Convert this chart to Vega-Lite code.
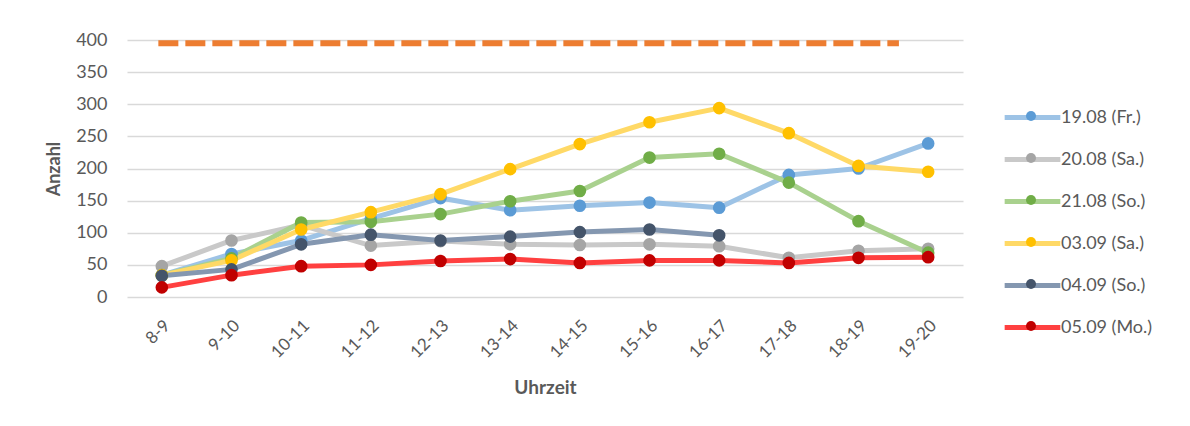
{
  "$schema": "https://vega.github.io/schema/vega-lite/v6.json",
  "width": 836,
  "height": 257,
  "autosize": "none",
  "padding": {"left": 127, "top": 40, "right": 227, "bottom": 129},
  "background": "white",
  "config": {
    "font": "Lato",
    "view": {"stroke": null},
    "axis": {"labelColor": "#595959", "titleColor": "#595959", "labelFont": "Lato", "titleFont": "Lato"},
    "legend": {"labelFont": "Lato"}
  },
  "resolve": {"legend": {"stroke": "independent", "fill": "independent"}},
  "datasets": {
    "serien": [
      {"zeit": "8-9", "serie": "19.08 (Fr.)", "wert": 34},
      {"zeit": "9-10", "serie": "19.08 (Fr.)", "wert": 67},
      {"zeit": "10-11", "serie": "19.08 (Fr.)", "wert": 88},
      {"zeit": "11-12", "serie": "19.08 (Fr.)", "wert": 122},
      {"zeit": "12-13", "serie": "19.08 (Fr.)", "wert": 154},
      {"zeit": "13-14", "serie": "19.08 (Fr.)", "wert": 135},
      {"zeit": "14-15", "serie": "19.08 (Fr.)", "wert": 142},
      {"zeit": "15-16", "serie": "19.08 (Fr.)", "wert": 147},
      {"zeit": "16-17", "serie": "19.08 (Fr.)", "wert": 139},
      {"zeit": "17-18", "serie": "19.08 (Fr.)", "wert": 190},
      {"zeit": "18-19", "serie": "19.08 (Fr.)", "wert": 200},
      {"zeit": "19-20", "serie": "19.08 (Fr.)", "wert": 239},
      {"zeit": "8-9", "serie": "20.08 (Sa.)", "wert": 48},
      {"zeit": "9-10", "serie": "20.08 (Sa.)", "wert": 88},
      {"zeit": "10-11", "serie": "20.08 (Sa.)", "wert": 112},
      {"zeit": "11-12", "serie": "20.08 (Sa.)", "wert": 80},
      {"zeit": "12-13", "serie": "20.08 (Sa.)", "wert": 87},
      {"zeit": "13-14", "serie": "20.08 (Sa.)", "wert": 82},
      {"zeit": "14-15", "serie": "20.08 (Sa.)", "wert": 81},
      {"zeit": "15-16", "serie": "20.08 (Sa.)", "wert": 82},
      {"zeit": "16-17", "serie": "20.08 (Sa.)", "wert": 79},
      {"zeit": "17-18", "serie": "20.08 (Sa.)", "wert": 61},
      {"zeit": "18-19", "serie": "20.08 (Sa.)", "wert": 72},
      {"zeit": "19-20", "serie": "20.08 (Sa.)", "wert": 75},
      {"zeit": "8-9", "serie": "21.08 (So.)", "wert": 34},
      {"zeit": "9-10", "serie": "21.08 (So.)", "wert": 60},
      {"zeit": "10-11", "serie": "21.08 (So.)", "wert": 116},
      {"zeit": "11-12", "serie": "21.08 (So.)", "wert": 117},
      {"zeit": "12-13", "serie": "21.08 (So.)", "wert": 129},
      {"zeit": "13-14", "serie": "21.08 (So.)", "wert": 149},
      {"zeit": "14-15", "serie": "21.08 (So.)", "wert": 165},
      {"zeit": "15-16", "serie": "21.08 (So.)", "wert": 217},
      {"zeit": "16-17", "serie": "21.08 (So.)", "wert": 223},
      {"zeit": "17-18", "serie": "21.08 (So.)", "wert": 178},
      {"zeit": "18-19", "serie": "21.08 (So.)", "wert": 118},
      {"zeit": "19-20", "serie": "21.08 (So.)", "wert": 69},
      {"zeit": "8-9", "serie": "03.09 (Sa.)", "wert": 34},
      {"zeit": "9-10", "serie": "03.09 (Sa.)", "wert": 57},
      {"zeit": "10-11", "serie": "03.09 (Sa.)", "wert": 105},
      {"zeit": "11-12", "serie": "03.09 (Sa.)", "wert": 132},
      {"zeit": "12-13", "serie": "03.09 (Sa.)", "wert": 160},
      {"zeit": "13-14", "serie": "03.09 (Sa.)", "wert": 199},
      {"zeit": "14-15", "serie": "03.09 (Sa.)", "wert": 238},
      {"zeit": "15-16", "serie": "03.09 (Sa.)", "wert": 272},
      {"zeit": "16-17", "serie": "03.09 (Sa.)", "wert": 294},
      {"zeit": "17-18", "serie": "03.09 (Sa.)", "wert": 255},
      {"zeit": "18-19", "serie": "03.09 (Sa.)", "wert": 204},
      {"zeit": "19-20", "serie": "03.09 (Sa.)", "wert": 195},
      {"zeit": "8-9", "serie": "04.09 (So.)", "wert": 33},
      {"zeit": "9-10", "serie": "04.09 (So.)", "wert": 43},
      {"zeit": "10-11", "serie": "04.09 (So.)", "wert": 82},
      {"zeit": "11-12", "serie": "04.09 (So.)", "wert": 97},
      {"zeit": "12-13", "serie": "04.09 (So.)", "wert": 88},
      {"zeit": "13-14", "serie": "04.09 (So.)", "wert": 94},
      {"zeit": "14-15", "serie": "04.09 (So.)", "wert": 101},
      {"zeit": "15-16", "serie": "04.09 (So.)", "wert": 105},
      {"zeit": "16-17", "serie": "04.09 (So.)", "wert": 96},
      {"zeit": "8-9", "serie": "05.09 (Mo.)", "wert": 15},
      {"zeit": "9-10", "serie": "05.09 (Mo.)", "wert": 34},
      {"zeit": "10-11", "serie": "05.09 (Mo.)", "wert": 48},
      {"zeit": "11-12", "serie": "05.09 (Mo.)", "wert": 50},
      {"zeit": "12-13", "serie": "05.09 (Mo.)", "wert": 56},
      {"zeit": "13-14", "serie": "05.09 (Mo.)", "wert": 59},
      {"zeit": "14-15", "serie": "05.09 (Mo.)", "wert": 53},
      {"zeit": "15-16", "serie": "05.09 (Mo.)", "wert": 57},
      {"zeit": "16-17", "serie": "05.09 (Mo.)", "wert": 57},
      {"zeit": "17-18", "serie": "05.09 (Mo.)", "wert": 53},
      {"zeit": "18-19", "serie": "05.09 (Mo.)", "wert": 61},
      {"zeit": "19-20", "serie": "05.09 (Mo.)", "wert": 62}
    ],
    "grenze": [
      {"von": "8-9", "bis": "19-20", "wert": 395}
    ]
  },
  "layer": [
    {
      "data": {"name": "grenze"},
      "mark": {"type": "rule", "color": "#ED7D31", "strokeWidth": 6, "strokeDash": [20, 7]},
      "encoding": {
        "x": {"field": "von", "type": "nominal", "bandPosition": 0.45},
        "x2": {"field": "bis", "bandPosition": 0.08},
        "y": {"field": "wert", "type": "quantitative"}
      }
    },
    {
      "data": {"name": "serien"},
      "mark": {"type": "line", "strokeWidth": 5, "strokeCap": "round", "strokeJoin": "round"},
      "encoding": {
        "x": {"field": "zeit", "type": "nominal", "bandPosition": 0.5},
        "y": {"field": "wert", "type": "quantitative"},
        "stroke": {
          "field": "serie", "type": "nominal",
          "scale": {
            "domain": ["19.08 (Fr.)", "20.08 (Sa.)", "21.08 (So.)", "03.09 (Sa.)", "04.09 (So.)", "05.09 (Mo.)"],
            "range": ["#9DC3E6", "#C9C9C9", "#A9D18E", "#FFD966", "#8497B0", "#FF4040"]
          },
          "legend": {
            "title": null, "orient": "none", "legendX": 875, "legendY": 47,
            "symbolType": "stroke", "symbolSize": 3100, "symbolStrokeWidth": 5,
            "labelFontSize": 18, "labelColor": "#595959", "rowPadding": 1, "padding": 0, "labelOffset": -2
          }
        },
        "detail": {"field": "serie"}
      }
    },
    {
      "data": {"name": "serien"},
      "mark": {"type": "point", "filled": true, "opacity": 1, "size": 160},
      "encoding": {
        "x": {"field": "zeit", "type": "nominal", "bandPosition": 0.5},
        "y": {"field": "wert", "type": "quantitative"},
        "fill": {
          "field": "serie", "type": "nominal",
          "scale": {
            "domain": ["19.08 (Fr.)", "20.08 (Sa.)", "21.08 (So.)", "03.09 (Sa.)", "04.09 (So.)", "05.09 (Mo.)"],
            "range": ["#5B9BD5", "#A5A5A5", "#70AD47", "#FFC000", "#44546A", "#C00000"]
          },
          "legend": {
            "title": null, "orient": "none", "legendX": 895, "legendY": 67,
            "symbolType": "circle", "symbolSize": 100, "symbolStrokeWidth": 0,
            "labelFontSize": 18, "labelExpr": "''", "rowPadding": 24, "padding": 0
          }
        }
      }
    }
  ],
  "encoding": {
    "x": {
      "field": "zeit", "type": "nominal",
      "sort": ["8-9", "9-10", "10-11", "11-12", "12-13", "13-14", "14-15", "15-16", "16-17", "17-18", "18-19", "19-20"],
      "scale": {"type": "band", "paddingInner": 0, "paddingOuter": 0,
        "domain": ["8-9", "9-10", "10-11", "11-12", "12-13", "13-14", "14-15", "15-16", "16-17", "17-18", "18-19", "19-20"]},
      "axis": {
        "title": "Uhrzeit", "titleFontSize": 19, "titleFontWeight": "bold", "titlePadding": 18,
        "labelAngle": -45, "labelFontSize": 17, "labelPadding": 20,
        "ticks": false, "domain": false, "grid": false
      }
    },
    "y": {
      "type": "quantitative",
      "scale": {"domain": [0, 400], "nice": false},
      "axis": {
        "title": "Anzahl", "titleFontSize": 18, "titleFontWeight": "bold", "titlePadding": 12,
        "values": [0, 50, 100, 150, 200, 250, 300, 350, 400],
        "labelFontSize": 18, "labelPadding": 20,
        "ticks": false, "domain": false, "grid": true, "gridColor": "#D9D9D9", "gridWidth": 1.3
      }
    }
  }
}
